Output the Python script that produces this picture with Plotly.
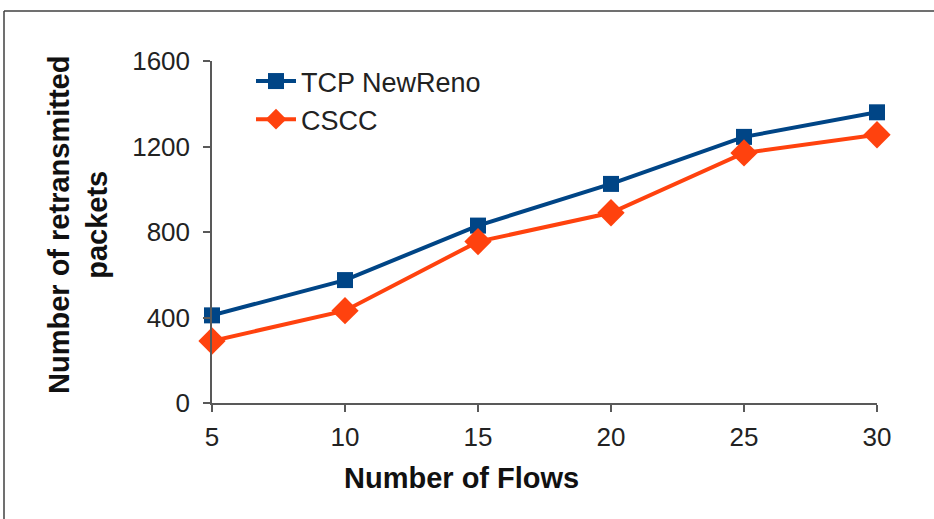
import plotly.graph_objects as go

# Number of concurrent flows and retransmitted packet counts
flows = [5, 10, 15, 20, 25, 30]
newreno = [410, 575, 830, 1025, 1245, 1360]
cscc = [290, 432, 755, 890, 1170, 1255]

y_ticks = [0, 400, 800, 1200, 1600]

W, H = 934, 519
L, R, T, B = 212, 57, 61, 116
pw, ph = W - L - R, H - T - B


def px_x(p):
    return (p - L) / pw


def px_y(p):
    return (H - B - p) / ph


BLUE = "#004586"
ORANGE = "#FF420E"
AXIS = "#595959"
FONT = "Liberation Sans, Arial, sans-serif"

fig = go.Figure()
fig.add_trace(go.Scatter(
    x=flows, y=newreno, name="TCP NewReno", mode="lines+markers",
    line=dict(color=BLUE, width=4),
    marker=dict(symbol="square", size=16, color=BLUE),
    cliponaxis=False,
))
fig.add_trace(go.Scatter(
    x=flows, y=cscc, name="CSCC", mode="lines+markers",
    line=dict(color=ORANGE, width=4),
    marker=dict(symbol="diamond", size=21, color=ORANGE),
    cliponaxis=False,
))

fig.update_layout(
    width=W, height=H,
    margin=dict(l=L, r=R, t=T, b=B),
    paper_bgcolor="white", plot_bgcolor="white",
    font=dict(family=FONT, size=26, color="#222222"),
    showlegend=True,
    legend=dict(
        x=px_x(251), y=px_y(57), xanchor="left", yanchor="top",
        bgcolor="rgba(0,0,0,0)", font=dict(size=27, color="#222222"),
        itemwidth=40, tracegroupgap=0,
    ),
    xaxis=dict(
        range=[5, 30], tickvals=flows, showgrid=False, zeroline=False,
        showline=True, linecolor=AXIS, linewidth=1.5,
        ticks="outside", ticklen=7, tickcolor=AXIS, tickwidth=1.5,
        ticklabelstandoff=3,
        tickfont=dict(size=26, color="#222222"),
    ),
    yaxis=dict(
        range=[0, 1600], tickvals=y_ticks, showgrid=False, zeroline=False,
        showline=True, linecolor=AXIS, linewidth=1.5,
        ticks="outside", ticklen=7, tickcolor=AXIS, tickwidth=1.5,
        ticklabelstandoff=8,
        tickfont=dict(size=26, color="#222222"),
    ),
    annotations=[
        dict(text="<b>Number of Flows</b>", xref="paper", yref="paper",
             x=px_x(461), y=px_y(478), xanchor="center", yanchor="middle",
             showarrow=False, font=dict(size=29, color="#111111")),
        dict(text="<b>Number of retransmitted<br>packets</b>", xref="paper", yref="paper",
             x=px_x(78), y=px_y(225), xanchor="center", yanchor="middle",
             textangle=-90, showarrow=False,
             font=dict(size=29, color="#111111")),
    ],
    shapes=[
        dict(type="line", xref="paper", yref="paper",
             x0=px_x(4), x1=px_x(940), y0=px_y(11), y1=px_y(11),
             line=dict(color="#404040", width=1.5)),
        dict(type="line", xref="paper", yref="paper",
             x0=px_x(4), x1=px_x(4), y0=px_y(11), y1=px_y(525),
             line=dict(color="#404040", width=1.5)),
    ],
)

fig.write_html("out.html")
